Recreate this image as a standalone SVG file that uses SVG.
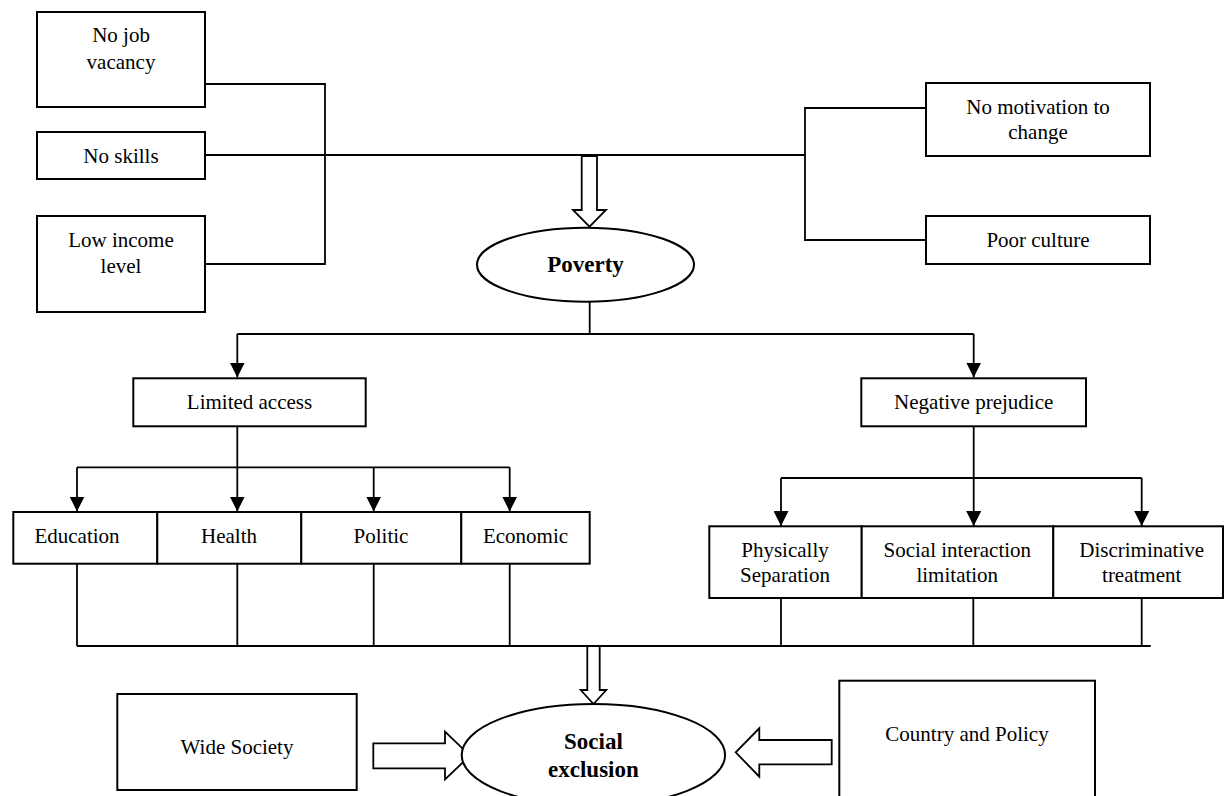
<svg xmlns="http://www.w3.org/2000/svg" width="1227" height="796" viewBox="0 0 1227 796">
<style>
.box{fill:#fff;stroke:#000;stroke-width:2}
.ell{fill:#fff;stroke:#000;stroke-width:2}
.ln{fill:none;stroke:#000;stroke-width:1.8}
.hol{fill:#fff;stroke:#000;stroke-width:1.8;stroke-linejoin:miter}
.t{font-family:"Liberation Serif","Times New Roman",serif;font-size:21px;fill:#000;text-anchor:middle;dominant-baseline:central}
.b{font-weight:bold;font-size:23px}
</style>
<defs>
<marker id="ah" viewBox="0 0 15 15" refX="15" refY="7.5" markerWidth="15" markerHeight="15" markerUnits="userSpaceOnUse" orient="auto">
<path d="M0,0 L15,7.5 L0,15 Z" fill="#000"/>
</marker>
</defs>
<rect width="1227" height="796" fill="#fff"/>
<g id="connectors">
<path class="ln" d="M205,84 H325 V264 H205"/>
<path class="ln" d="M205,155 H805"/>
<path class="ln" d="M926,108 H805 V240 H926"/>
<polygon class="hol" points="581.7,156 597,156 597,210 606,210 589.5,226.7 573,210 581.7,210"/>
<path class="ln" d="M589.7,301.7 V334"/>
<path class="ln" d="M237.3,334 H973.7"/>
<path class="ln" d="M237.3,334 V377.5" marker-end="url(#ah)"/>
<path class="ln" d="M973.7,334 V377.5" marker-end="url(#ah)"/>
<path class="ln" d="M237.3,426.3 V467.3"/>
<path class="ln" d="M77,467.3 H509.7"/>
<path class="ln" d="M77,467.3 V511.5" marker-end="url(#ah)"/>
<path class="ln" d="M237.3,467.3 V511.5" marker-end="url(#ah)"/>
<path class="ln" d="M373.7,467.3 V511.5" marker-end="url(#ah)"/>
<path class="ln" d="M509.7,467.3 V511.5" marker-end="url(#ah)"/>
<path class="ln" d="M973.7,426.3 V478"/>
<path class="ln" d="M781,478 H1141.7"/>
<path class="ln" d="M781,478 V526" marker-end="url(#ah)"/>
<path class="ln" d="M973.7,478 V526" marker-end="url(#ah)"/>
<path class="ln" d="M1141.7,478 V526" marker-end="url(#ah)"/>
<path class="ln" d="M77,563.7 V646 M237.3,563.7 V646 M373.7,563.7 V646 M509.7,563.7 V646"/>
<path class="ln" d="M781,598 V646 M973.3,598 V646 M1141.7,598 V646"/>
<path class="ln" d="M77,646 H1150.7"/>
<polygon class="hol" points="587.3,646 599.7,646 599.7,690 606.3,690 593.5,704 580.7,690 587.3,690"/>
<polygon class="hol" points="373.3,743.3 445,743.3 445,731.7 470,755.7 445,779.3 445,768.3 373.3,768.3"/>
<polygon class="hol" points="831.7,740 759.3,740 759.3,728.3 735.7,752.3 759.3,776.7 759.3,764.3 831.7,764.3"/>
</g>
<g id="no-job-vacancy"><rect class="box" x="37" y="12" width="168" height="95"/><text class="t" x="121" y="35">No job</text><text class="t" x="121" y="62">vacancy</text></g>
<g id="no-skills"><rect class="box" x="37" y="132" width="168" height="47"/><text class="t" x="121" y="156">No skills</text></g>
<g id="low-income"><rect class="box" x="37" y="216" width="168" height="96"/><text class="t" x="121" y="240">Low income</text><text class="t" x="121" y="266">level</text></g>
<g id="no-motivation"><rect class="box" x="926" y="83" width="224" height="73"/><text class="t" x="1038" y="107">No motivation to</text><text class="t" x="1038" y="132">change</text></g>
<g id="poor-culture"><rect class="box" x="926" y="216" width="224" height="48"/><text class="t" x="1038" y="240">Poor culture</text></g>
<g id="poverty"><ellipse class="ell" cx="585.5" cy="264.7" rx="108.5" ry="37"/><text class="t b" x="585.5" y="264">Poverty</text></g>
<g id="limited-access"><rect class="box" x="133.3" y="378.3" width="232.4" height="48"/><text class="t" x="249.5" y="402">Limited access</text></g>
<g id="negative-prejudice"><rect class="box" x="861.3" y="378.3" width="224.7" height="48"/><text class="t" x="973.7" y="402">Negative prejudice</text></g>
<g id="education"><rect class="box" x="13.3" y="512" width="144" height="51.7"/><text class="t" x="77" y="536">Education</text></g>
<g id="health"><rect class="box" x="157.3" y="512" width="144" height="51.7"/><text class="t" x="229" y="536">Health</text></g>
<g id="politic"><rect class="box" x="301.3" y="512" width="160" height="51.7"/><text class="t" x="381" y="536">Politic</text></g>
<g id="economic"><rect class="box" x="461.3" y="512" width="128.4" height="51.7"/><text class="t" x="525.5" y="536">Economic</text></g>
<g id="physically-separation"><rect class="box" x="709.3" y="526.3" width="152.4" height="71.7"/><text class="t" x="785" y="549.5">Physically</text><text class="t" x="785" y="575">Separation</text></g>
<g id="social-interaction"><rect class="box" x="861.7" y="526.3" width="191.6" height="71.7"/><text class="t" x="957.3" y="549.5">Social interaction</text><text class="t" x="957.3" y="575">limitation</text></g>
<g id="discriminative"><rect class="box" x="1053.3" y="526.3" width="169.7" height="71.7"/><text class="t" x="1141.7" y="549.5">Discriminative</text><text class="t" x="1141.7" y="575">treatment</text></g>
<g id="social-exclusion"><ellipse class="ell" cx="593.4" cy="755" rx="131.7" ry="51"/><text class="t b" x="593.4" y="741.5">Social</text><text class="t b" x="593.4" y="769">exclusion</text></g>
<g id="wide-society"><rect class="box" x="117.3" y="694" width="239.4" height="96"/><text class="t" x="237" y="747">Wide Society</text></g>
<g id="country-policy"><rect class="box" x="839.3" y="680.7" width="255.7" height="130"/><text class="t" x="967" y="734">Country and Policy</text></g>
</svg>
